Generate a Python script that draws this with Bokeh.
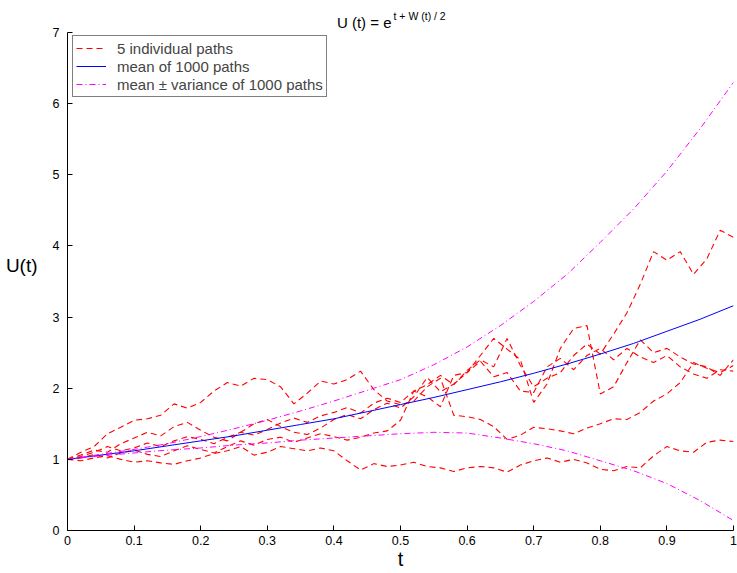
from bokeh.plotting import figure
from bokeh.models import Range1d, FixedTicker, Legend, LegendItem, Label
from bokeh.embed import file_html
from bokeh.resources import INLINE

# ---------------- data ----------------
t_path = [0.00, 0.02, 0.04, 0.06, 0.08, 0.10, 0.12, 0.14, 0.16, 0.18,
          0.20, 0.22, 0.24, 0.26, 0.28, 0.30, 0.32, 0.34, 0.36, 0.38,
          0.40, 0.42, 0.44, 0.46, 0.48, 0.50, 0.52, 0.54, 0.56, 0.58,
          0.60, 0.62, 0.64, 0.66, 0.68, 0.70, 0.72, 0.74, 0.76, 0.78,
          0.80, 0.82, 0.84, 0.86, 0.88, 0.90, 0.92, 0.94, 0.96, 0.98, 1.00]

path_1 = [1.00, 1.10, 1.18, 1.36, 1.45, 1.55, 1.57, 1.62, 1.78, 1.72,
          1.80, 1.96, 2.08, 2.03, 2.14, 2.12, 2.02, 1.78, 1.93, 2.10,
          2.06, 2.12, 2.24, 1.98, 1.82, 1.77, 1.82, 2.02, 2.14, 1.62,
          1.60, 1.56, 1.46, 1.28, 1.34, 1.45, 1.43, 1.40, 1.36, 1.44,
          1.50, 1.57, 1.56, 1.66, 1.82, 1.92, 2.08, 2.36, 2.28, 2.22, 2.32]

path_2 = [1.00, 1.06, 1.13, 1.10, 1.22, 1.30, 1.38, 1.33, 1.46, 1.52,
          1.41, 1.31, 1.26, 1.38, 1.50, 1.56, 1.46, 1.38, 1.35, 1.44,
          1.56, 1.63, 1.57, 1.70, 1.79, 1.72, 1.88, 2.15, 1.95, 2.06,
          2.22, 2.46, 2.70, 2.55, 2.40, 1.80, 2.06, 2.56, 2.84, 2.88,
          1.92, 2.02, 2.36, 2.68, 2.50, 2.56, 2.44, 2.34, 2.30, 2.18, 2.40]

path_3 = [1.00, 1.04, 1.10, 1.18, 1.12, 1.16, 1.23, 1.18, 1.26, 1.32,
          1.28, 1.22, 1.31, 1.38, 1.34, 1.42, 1.51, 1.58, 1.52, 1.61,
          1.66, 1.73, 1.65, 1.79, 1.86, 1.80, 1.96, 2.05, 2.18, 2.05,
          2.25, 2.40, 2.30, 2.70, 2.32, 2.02, 2.14, 2.22, 2.46, 2.62,
          2.48, 2.76, 3.06, 3.46, 3.92, 3.80, 3.92, 3.60, 3.82, 4.22, 4.12]

path_4 = [1.00, 1.02, 1.07, 1.02, 1.09, 1.13, 1.07, 1.04, 1.12, 1.19,
          1.14, 1.09, 1.18, 1.26, 1.20, 1.28, 1.31, 1.24, 1.30, 1.36,
          1.32, 1.27, 1.31, 1.37, 1.40, 1.55, 1.96, 1.88, 1.74, 2.18,
          2.22, 2.38, 2.16, 2.22, 1.96, 1.94, 2.30, 2.42, 2.26, 2.46,
          2.56, 2.40, 2.56, 2.44, 2.36, 2.46, 2.30, 2.20, 2.14, 2.26, 2.24]

path_5 = [1.00, 0.98, 1.02, 1.05, 1.00, 0.96, 0.98, 0.95, 0.93, 0.98,
          1.02, 1.08, 1.12, 1.18, 1.06, 1.10, 1.18, 1.15, 1.12, 1.16,
          1.12, 0.98, 0.85, 0.94, 0.90, 0.92, 0.96, 0.90, 0.88, 0.83,
          0.88, 0.90, 0.88, 0.82, 0.92, 0.98, 1.02, 0.96, 1.00, 0.95,
          0.86, 0.84, 0.90, 0.88, 1.05, 1.18, 1.12, 1.10, 1.24, 1.27, 1.25]

t_stat = [0.00, 0.05, 0.10, 0.15, 0.20, 0.25, 0.30, 0.35, 0.40, 0.45, 0.50,
          0.55, 0.60, 0.65, 0.70, 0.75, 0.80, 0.85, 0.90, 0.95, 1.00]
mean_vals = [1.00, 1.06, 1.12, 1.19, 1.26, 1.33, 1.41, 1.49, 1.57, 1.67, 1.77,
             1.87, 1.98, 2.09, 2.21, 2.34, 2.48, 2.63, 2.80, 2.97, 3.16]
upper_vals = [1.00, 1.07, 1.14, 1.22, 1.32, 1.43, 1.55, 1.68, 1.82, 1.97, 2.12,
              2.33, 2.58, 2.88, 3.22, 3.60, 4.05, 4.52, 5.05, 5.65, 6.30]
lower_vals = [1.00, 1.05, 1.09, 1.13, 1.16, 1.20, 1.23, 1.27, 1.30, 1.33, 1.36,
              1.38, 1.37, 1.30, 1.22, 1.12, 0.98, 0.84, 0.66, 0.42, 0.14]

x_ticks = [0, 0.1, 0.2, 0.3, 0.4, 0.5, 0.6, 0.7, 0.8, 0.9, 1]
x_tick_labels = ["0", "0.1", "0.2", "0.3", "0.4", "0.5", "0.6", "0.7", "0.8", "0.9", "1"]
y_ticks = [0, 1, 2, 3, 4, 5, 6, 7]
y_tick_labels = ["0", "1", "2", "3", "4", "5", "6", "7"]

legend_labels = ["5 individual paths", "mean of 1000 paths", "mean \u00b1 variance of 1000 paths"]
title_main = "U (t) = e"
title_sup = "t + W (t) / 2"

FONT = "Liberation Sans"
Y_MAX = 7
Y_VIEW_TOP = 7.45   # room above the axis for the title

# ---------------- figure ----------------
p = figure(width=737, height=573, output_backend="svg", toolbar_location=None,
           x_range=Range1d(0, 1), y_range=Range1d(0, Y_VIEW_TOP),
           min_border_left=67, min_border_right=4, min_border_top=0,
           min_border_bottom=43)
p.title.visible = False
p.grid.visible = False
p.outline_line_color = None
p.background_fill_color = "white"
p.border_fill_color = "white"

for ax in (p.xaxis[0], p.yaxis[0]):
    ax.axis_line_color = "black"
    ax.axis_line_width = 1
    ax.major_tick_line_color = "black"
    ax.major_tick_in = 5
    ax.major_tick_out = 0
    ax.minor_tick_line_color = None
    ax.major_label_text_font = FONT
    ax.major_label_text_font_size = "12.5px"
    ax.major_label_text_color = "black"
    ax.axis_label_text_font = FONT
    ax.axis_label_text_font_style = "normal"
    ax.axis_label_text_color = "black"

p.xaxis[0].ticker = FixedTicker(ticks=x_ticks)
p.xaxis[0].major_label_overrides = {tk: lb for tk, lb in zip(x_ticks, x_tick_labels)}
p.xaxis[0].axis_label = "t"
p.xaxis[0].axis_label_text_font_size = "20px"
p.xaxis[0].axis_label_standoff = 0
p.xaxis[0].major_label_standoff = 5

yax = p.yaxis[0]
yax.ticker = FixedTicker(ticks=y_ticks)
yax.major_label_overrides = {tk: lb for tk, lb in zip(y_ticks, y_tick_labels)}
yax.major_label_standoff = 8
yax.bounds = (0, Y_MAX)
if hasattr(yax, "axis_label_orientation"):
    yax.axis_label = "U(t)"
    yax.axis_label_text_font_size = "19px"
    yax.axis_label_orientation = "horizontal"
    yax.axis_label_standoff = 12
else:
    p.add_layout(Label(x=0, y=3.5, x_offset=-27, text="U(t)", text_align="right",
                       text_baseline="middle", text_font=FONT, text_font_size="19px"))

# ---------------- lines ----------------
red_renderers = []
for path in (path_1, path_2, path_3, path_4, path_5):
    r = p.line(t_path, path, line_color="#ff0000", line_width=1.1, line_dash="6 4")
    red_renderers.append(r)

r_mean = p.line(t_stat, mean_vals, line_color="#0000ff", line_width=1)
r_up = p.line(t_stat, upper_vals, line_color="#ff00ff", line_width=1, line_dash="6 3 1 3")
r_lo = p.line(t_stat, lower_vals, line_color="#ff00ff", line_width=1, line_dash="6 3 1 3")

legend = Legend(items=[LegendItem(label=legend_labels[0], renderers=[red_renderers[0]]),
                       LegendItem(label=legend_labels[1], renderers=[r_mean]),
                       LegendItem(label=legend_labels[2], renderers=[r_up])],
                location=(5, 433), border_line_color="black", border_line_width=1,
                background_fill_color="white", background_fill_alpha=1,
                label_text_font=FONT, label_text_font_size="15px",
                padding=3, spacing=0, glyph_width=30, glyph_height=18,
                label_height=18, label_standoff=11, margin=0)
p.add_layout(legend)

# ---------------- title with superscript ----------------
p.add_layout(Label(x=0.5, y=Y_MAX, x_offset=-9, y_offset=10, text=title_main,
                   text_align="right", text_baseline="alphabetic",
                   text_font=FONT, text_font_size="15px", text_color="black"))
p.add_layout(Label(x=0.5, y=Y_MAX, x_offset=-7, y_offset=17, text=title_sup,
                   text_align="left", text_baseline="alphabetic",
                   text_font=FONT, text_font_size="10.5px", text_color="black"))

open("out.html", "w").write(file_html(p, INLINE))
